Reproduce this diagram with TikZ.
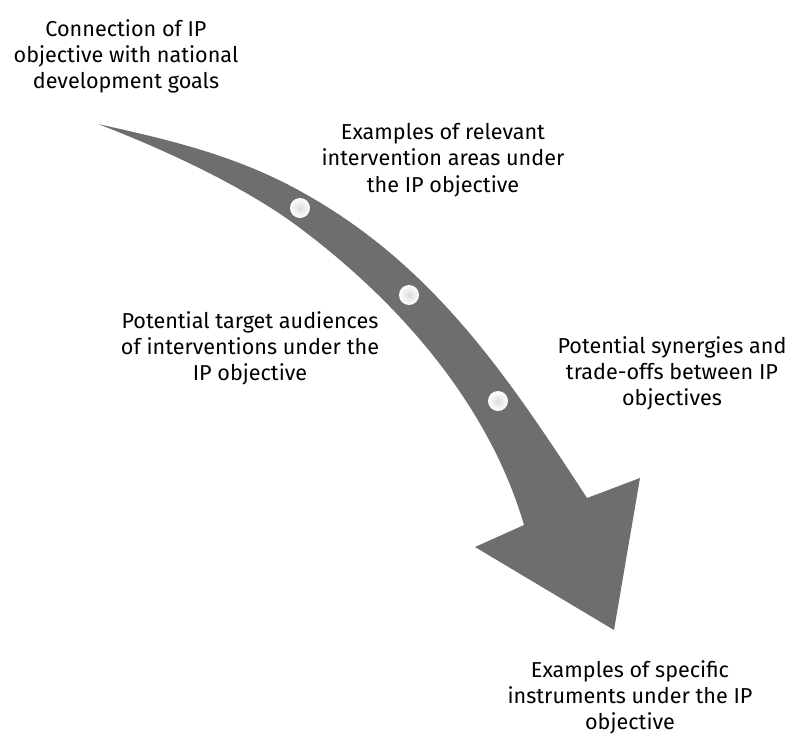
\documentclass[tikz,border=0pt]{standalone}
\usepackage{fontspec}
\setmainfont{Fira Sans}
\definecolor{arrowgray}{RGB}{110,110,110}
\begin{document}
\begin{tikzpicture}[x=1pt,y=-1pt,
  lbl/.style={align=center, inner sep=0pt, anchor=north, font=\fontsize{21.6pt}{26.3pt}\selectfont},
  dot/.style={circle, inner sep=0pt, minimum size=20pt, inner color=black!14, outer color=white}]
\useasboundingbox (0,0) rectangle (797,736);
% curved arrow
\fill[arrowgray] (98,124) .. controls (165,139) and (233,154) .. (300,191)
  .. controls (431,263) and (505,372) .. (587,498)
  -- (640,478) -- (614,630) -- (475,547) -- (524,525)
  .. controls (489,405) and (400,303) .. (300,228)
  .. controls (244,186) and (163,149) .. (98,124) -- cycle;
% circles
\node[dot] (c1) at (300,208) {};
\node[dot] (c2) at (409,295) {};
\node[dot] (c3) at (498,401) {};
% labels
\node[lbl] (t1) at (126,19) {Connection of IP\\objective with national\\development goals};
\node[lbl] (t2) at (443,123) {Examples of relevant\\intervention areas under\\the IP objective};
\node[lbl] (t3) at (250,311) {Potential target audiences\\of interventions under the\\IP objective};
\node[lbl] (t4) at (672,336) {Potential synergies and\\trade-offs between IP\\objectives};
\node[lbl] (t5) at (630,660) {Examples of specific\\instruments under the IP\\objective};
\end{tikzpicture}
\end{document}
